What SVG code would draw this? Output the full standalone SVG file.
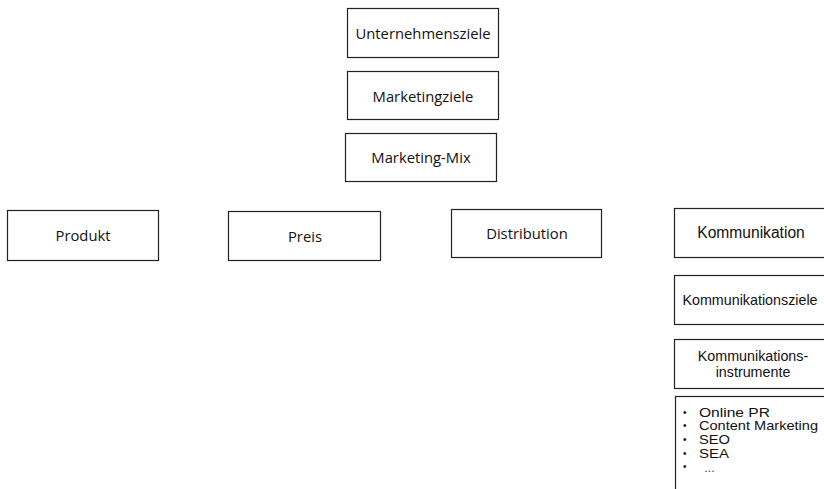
<svg xmlns="http://www.w3.org/2000/svg" width="824" height="489" viewBox="0 0 824 489">
<style>
.box{fill:#fff;stroke:#222;stroke-width:1.2}
.c{font-family:"Open Sans",sans-serif;font-size:14.8px;fill:#111;text-anchor:middle;dominant-baseline:central}
.a{font-family:"Liberation Sans",Arial,sans-serif;font-size:14.3px;fill:#111;text-anchor:middle;dominant-baseline:central}
.l{font-family:"Liberation Sans",Arial,sans-serif;font-size:13.2px;fill:#111;dominant-baseline:central}
.b{font-family:"Liberation Sans",Arial,sans-serif;font-size:10px;fill:#111;dominant-baseline:central}
</style>
<rect width="824" height="489" fill="#fff"/>
<g id="connectors"></g>
<g id="unternehmensziele"><rect class="box" x="347.5" y="8.5" width="151" height="49"/><text class="c" x="423" y="33">Unternehmensziele</text></g>
<g id="marketingziele"><rect class="box" x="347.5" y="71.5" width="151" height="48"/><text class="c" x="423" y="96">Marketingziele</text></g>
<g id="marketing-mix"><rect class="box" x="345.5" y="133.5" width="151" height="48"/><text class="c" x="421" y="157">Marketing-Mix</text></g>
<g id="produkt"><rect class="box" x="7.5" y="210.5" width="151" height="50"/><text class="c" x="83" y="235">Produkt</text></g>
<g id="preis"><rect class="box" x="228.5" y="211.5" width="152" height="49"/><text class="c" x="305" y="236">Preis</text></g>
<g id="distribution"><rect class="box" x="451.5" y="209.5" width="150" height="48"/><text class="c" x="527" y="233">Distribution</text></g>
<g id="kommunikation"><rect class="box" x="674.5" y="208.5" width="160" height="49"/><text class="a" x="751" y="232" style="font-size:15.6px">Kommunikation</text></g>
<g id="kommunikationsziele"><rect class="box" x="674.5" y="275.5" width="160" height="49"/><text class="a" x="750" y="299.5">Kommunikationsziele</text></g>
<g id="kommunikationsinstrumente"><rect class="box" x="674.5" y="339.5" width="160" height="49"/><text class="a" x="753" y="356">Kommunikations-</text><text class="a" x="753" y="372">instrumente</text></g>
<g id="instrumente-liste"><rect class="box" x="675.5" y="396.5" width="160" height="110"/>
<text class="b" x="683" y="412">•</text><text class="l" x="699" y="412" textLength="71" lengthAdjust="spacingAndGlyphs">Online PR</text>
<text class="b" x="683" y="425.7">•</text><text class="l" x="699" y="425.7" textLength="119" lengthAdjust="spacingAndGlyphs">Content Marketing</text>
<text class="b" x="683" y="439.4">•</text><text class="l" x="699" y="439.4" textLength="31" lengthAdjust="spacingAndGlyphs">SEO</text>
<text class="b" x="683" y="453.1">•</text><text class="l" x="699" y="453.1" textLength="30" lengthAdjust="spacingAndGlyphs">SEA</text>
<text class="b" x="683" y="466.8">•</text><text class="b" x="704" y="468" style="font-size:11px">…</text>
</g>
</svg>
